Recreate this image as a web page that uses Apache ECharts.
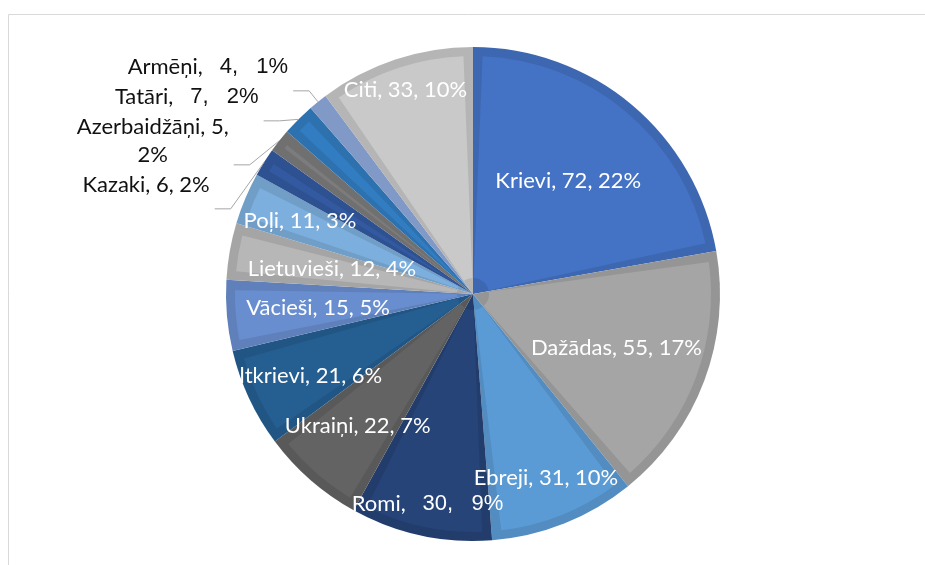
<!DOCTYPE html>
<html>
<head>
<meta charset="utf-8">
<script src="https://cdn.jsdelivr.net/npm/echarts@6/dist/echarts.min.js"></script>
<style>
html, body { margin: 0; padding: 0; background: #fff; }
#pie { width: 925px; height: 565px; }
</style>
</head>
<body>
<div id="pie"></div>
<script>
const names = ['Krievi', 'Dažādas', 'Ebreji', 'Romi', 'Ukraiņi', 'Baltkrievi', 'Vācieši',
  'Lietuvieši', 'Poļi', 'Kazaki', 'Azerbaidžāņi', 'Tatāri', 'Armēņi', 'Citi'];
const values = [72, 55, 31, 30, 22, 21, 15, 12, 11, 6, 5, 7, 4, 33];
const colors = ['#4472c4', '#a5a5a5', '#5b9bd5', '#264478', '#636363', '#255e91', '#698ed0',
  '#b7b7b7', '#7cafdd', '#335aa1', '#7c7c7c', '#327dc2', '#8faadc', '#c9c9c9'];
// how deep into the slice Excel put each inside label (share of the radius)
const labelDepth = [0.6, 0.62, 0.8, 0.87, 0.71, 0.78, 0.63, 0.58, 0.76, null, null, null, null, 0.87];
const outsideNames = ['Kazaki', 'Azerbaidžāņi', 'Tatāri', 'Armēņi'];
const arialNums = ['Romi', 'Tatāri', 'Armēņi'];
const wrapped = ['Azerbaidžāņi'];

const cx = 473, cy = 294, R = 247, ring = 9;
const total = values.reduce((a, b) => a + b, 0);

function darken (hex, f) {
  let n = parseInt(hex.slice(1), 16);
  let r = Math.round(((n >> 16) & 255) * f);
  let g = Math.round(((n >> 8) & 255) * f);
  let b = Math.round((n & 255) * f);
  return 'rgb(' + r + ',' + g + ',' + b + ')';
}

function richFor (color) {
  return {
    n: { fontFamily: 'Lato', fontSize: 22, color: color },
    d: { fontFamily: 'Liberation Sans', fontSize: 22, color: color }
  };
}

let chart = echarts.init(document.getElementById('pie'));

let ringData = names.map((n, i) => ({ name: n, value: values[i], itemStyle: { color: darken(colors[i], 0.9) } }));
let fillData = names.map((n, i) => ({ name: n, value: values[i], itemStyle: { color: colors[i] } }));
let labelData = names.map((n, i) => {
  let outside = outsideNames.indexOf(n) >= 0;
  return {
    name: n,
    value: values[i],
    label: {
      position: outside ? 'outside' : 'inside',
      color: outside ? '#111' : '#fff',
      rich: richFor(outside ? '#111' : '#fff')
    },
    labelLine: { show: outside }
  };
});

let option = {
  backgroundColor: '#fff',
  animation: false,
  graphic: [{
    type: 'rect',
    shape: { x: 8.5, y: 14.5, width: 1000, height: 1000 },
    style: { fill: 'none', stroke: '#d9d9d9', lineWidth: 1 },
    silent: true
  }],
  series: [
    {
      // darker outer band of every slice
      name: 'ring',
      type: 'pie',
      center: [cx, cy],
      radius: [0, R],
      startAngle: 90,
      clockwise: true,
      silent: true,
      z: 1,
      label: { show: false },
      labelLine: { show: false },
      itemStyle: { borderWidth: 0 },
      data: ringData
    },
    {
      // lighter inner face
      name: 'fill',
      type: 'pie',
      center: [cx, cy],
      radius: [16, R - ring],
      startAngle: 90,
      clockwise: true,
      padAngle: 4.6,
      silent: true,
      z: 2,
      label: { show: false },
      labelLine: { show: false },
      itemStyle: { borderWidth: 0 },
      data: fillData
    },
    {
      // labels only
      name: 'labels',
      type: 'pie',
      center: [cx, cy],
      radius: [0, R],
      startAngle: 90,
      clockwise: true,
      silent: true,
      z: 3,
      percentPrecision: 0,
      itemStyle: { color: 'rgba(0,0,0,0)', borderWidth: 0 },
      label: {
        show: true,
        fontFamily: 'Lato',
        fontSize: 22,
        lineHeight: 28,
        formatter: function (p) {
          if (arialNums.indexOf(p.name) >= 0) {
            return '{n|' + p.name + ',}   {d|' + p.value + ',   ' + p.percent + '%}';
          }
          if (wrapped.indexOf(p.name) >= 0) {
            return '{n|' + p.name + ', ' + p.value + ',}\n{n|' + p.percent + '%}';
          }
          return '{n|' + p.name + ', ' + p.value + ', ' + p.percent + '%}';
        }
      },
      labelLine: {
        length: 14,
        length2: 16,
        smooth: false,
        lineStyle: { color: '#a6a6a6', width: 1 }
      },
      labelLayout: function (p) {
        let k = labelDepth[p.dataIndex];
        if (k == null) {
          if (wrapped.indexOf(names[p.dataIndex]) >= 0) {
            return { dy: -24, dx: -p.labelRect.width / 2, align: 'center' };
          }
          return { dy: -24 };
        }
        let before = 0;
        for (let i = 0; i < p.dataIndex; i++) before += values[i];
        let mid = (before + values[p.dataIndex] / 2) / total * Math.PI * 2;
        return {
          x: cx + k * R * Math.sin(mid),
          y: cy - k * R * Math.cos(mid),
          align: 'center',
          verticalAlign: 'middle'
        };
      },
      data: labelData
    }
  ]
};
chart.setOption(option);
</script>
</body>
</html>
